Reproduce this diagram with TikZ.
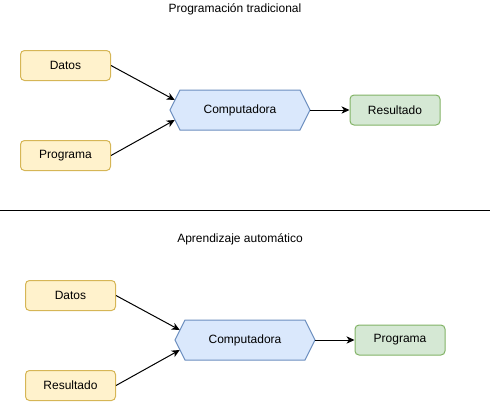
\documentclass[tikz,border=0pt]{standalone}
\usepackage{fontspec}
\setmainfont{Liberation Sans}
\usetikzlibrary{arrows.meta}
\definecolor{amarillo}{HTML}{FFF2CC}
\definecolor{amarilloborde}{HTML}{D6B656}
\definecolor{azul}{HTML}{DAE8FC}
\definecolor{azulborde}{HTML}{6C8EBF}
\definecolor{verde}{HTML}{D5E8D4}
\definecolor{verdeborde}{HTML}{82B366}
\tikzset{
  every node/.style={font=\fontsize{9pt}{11pt}\selectfont},
  caja/.style={rectangle,rounded corners=3pt,line width=0.75pt,minimum width=67.5pt,minimum height=22.5pt,inner sep=0pt},
  entrada/.style={caja,draw=amarilloborde,fill=amarillo},
  salida/.style={caja,draw=verdeborde,fill=verde},
  hexlinea/.style={draw=azulborde,fill=azul,line width=0.75pt},
  flecha/.style={line width=0.75pt,-{Stealth[length=6pt,width=5.5pt,inset=1.8pt]}}
}
\newcommand{\caja}[4][]{\node[#1] at (#2) (#3) {#4}}
\newcommand{\computadora}[2]{%
  \draw[hexlinea] (#1) +(-70,0) -- +(-60,-20) -- +(60,-20) -- +(70,0) -- +(60,20) -- +(-60,20) -- cycle;
  \node[rectangle,minimum width=105pt,minimum height=30pt,inner sep=0pt] at (#1) (#2) {Computadora}}

\begin{document}
\begin{tikzpicture}[x=0.75pt,y=-0.75pt]
  \useasboundingbox (0,0) rectangle (492,401);

  % programacion tradicional
  \node at (235,9) (titulo1) {Programación tradicional};
  \caja[entrada]{65.5,65.5}{datos1}{Datos};
  \caja[entrada]{65.5,155.5}{programa1}{Programa};
  \computadora{240,110}{comp1};
  \caja[salida]{395,110}{resultado1}{Resultado};

  \draw[flecha] (datos1.east) -- ([shift={(5,-10)}]comp1.west);
  \draw[flecha] (programa1.east) -- ([shift={(5,10)}]comp1.west);
  \draw[flecha] (comp1.east) -- (resultado1.west);

  % separador
  \coordinate (sepA) at (0,210);
  \coordinate (sepB) at (490,210);
  \draw[line width=0.75pt] (sepA) -- (sepB);

  % aprendizaje automatico
  \node at (240,239) (titulo2) {Aprendizaje automático};
  \caja[entrada]{70.5,295.5}{datos2}{Datos};
  \caja[entrada]{70.5,385.5}{resultado2}{Resultado};
  \computadora{245,340}{comp2};
  \caja[salida]{400,340}{programa2}{Programa};

  \draw[flecha] (datos2.east) -- ([shift={(5,-10)}]comp2.west);
  \draw[flecha] (resultado2.east) -- ([shift={(5,10)}]comp2.west);
  \draw[flecha] (comp2.east) -- (programa2.west);
\end{tikzpicture}
\end{document}
